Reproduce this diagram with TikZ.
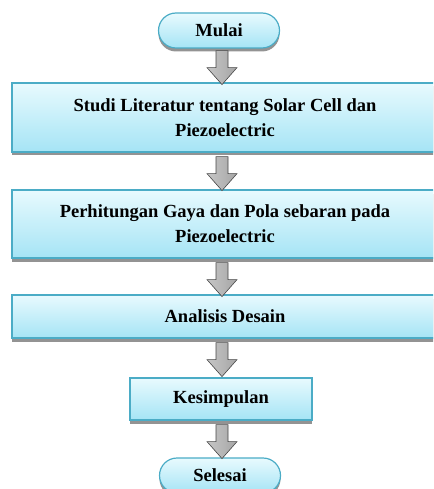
\documentclass[tikz,border=0pt]{standalone}
\usepackage{fontspec}
\setmainfont{Liberation Serif}
\usetikzlibrary{shadows,calc}
\definecolor{boxline}{HTML}{4BACC6}
\definecolor{boxtop}{HTML}{E8FAFE}
\definecolor{boxbot}{HTML}{A5E4F5}
\tikzset{
  box/.style={draw=boxline, line width=1.2pt, top color=boxtop, bottom color=boxbot,
    font=\fontsize{18.5}{25}\selectfont\bfseries, align=center, inner sep=0pt,
    drop shadow={shadow xshift=0pt, shadow yshift=-3.5pt, fill=gray!85, opacity=1}},
  terminal/.style={box, rounded corners=17.5pt, minimum width=121pt, minimum height=35pt},
  arrowstyle/.style={draw=gray!55!black, line width=0.6pt, left color=gray!45,
    middle color=white, right color=gray!70},
  downarrow/.pic={\draw[arrowstyle] (-6,0) -- (-6,17) -- (-15,17) -- (0,34)
    -- (15,17) -- (6,17) -- (6,0) -- cycle;}
}
\begin{document}
\begin{tikzpicture}[x=1pt,y=-1pt]
\useasboundingbox (0,0) rectangle (433,489);
\clip (0,0) rectangle (433,489);
\coordinate (ax) at (222,0);
\node[terminal] (mulai) at (219,30.5) {Mulai};
\node[box, minimum width=426pt, minimum height=69pt] (s1) at (225,117.5)
  {Studi Literatur tentang Solar Cell dan\\Piezoelectric};
\node[box, minimum width=426pt, minimum height=68pt] (s2) at (225,224)
  {Perhitungan Gaya dan Pola sebaran pada\\Piezoelectric};
\node[box, minimum width=426pt, minimum height=43pt] (s3) at (225,316.5)
  {Analisis Desain};
\node[box, minimum width=182pt, minimum height=42pt] (s4) at (221,399)
  {Kesimpulan};
\node[terminal] (selesai) at (220,475.5) {Selesai};
\path (mulai.south -| ax) ++(0,2) pic {downarrow};
\path (s1.south -| ax) ++(0,4) pic {downarrow};
\path (s2.south -| ax) ++(0,4) pic {downarrow};
\path (s3.south -| ax) ++(0,4) pic {downarrow};
\path (s4.south -| ax) ++(0,4) pic {downarrow};
\end{tikzpicture}
\end{document}
